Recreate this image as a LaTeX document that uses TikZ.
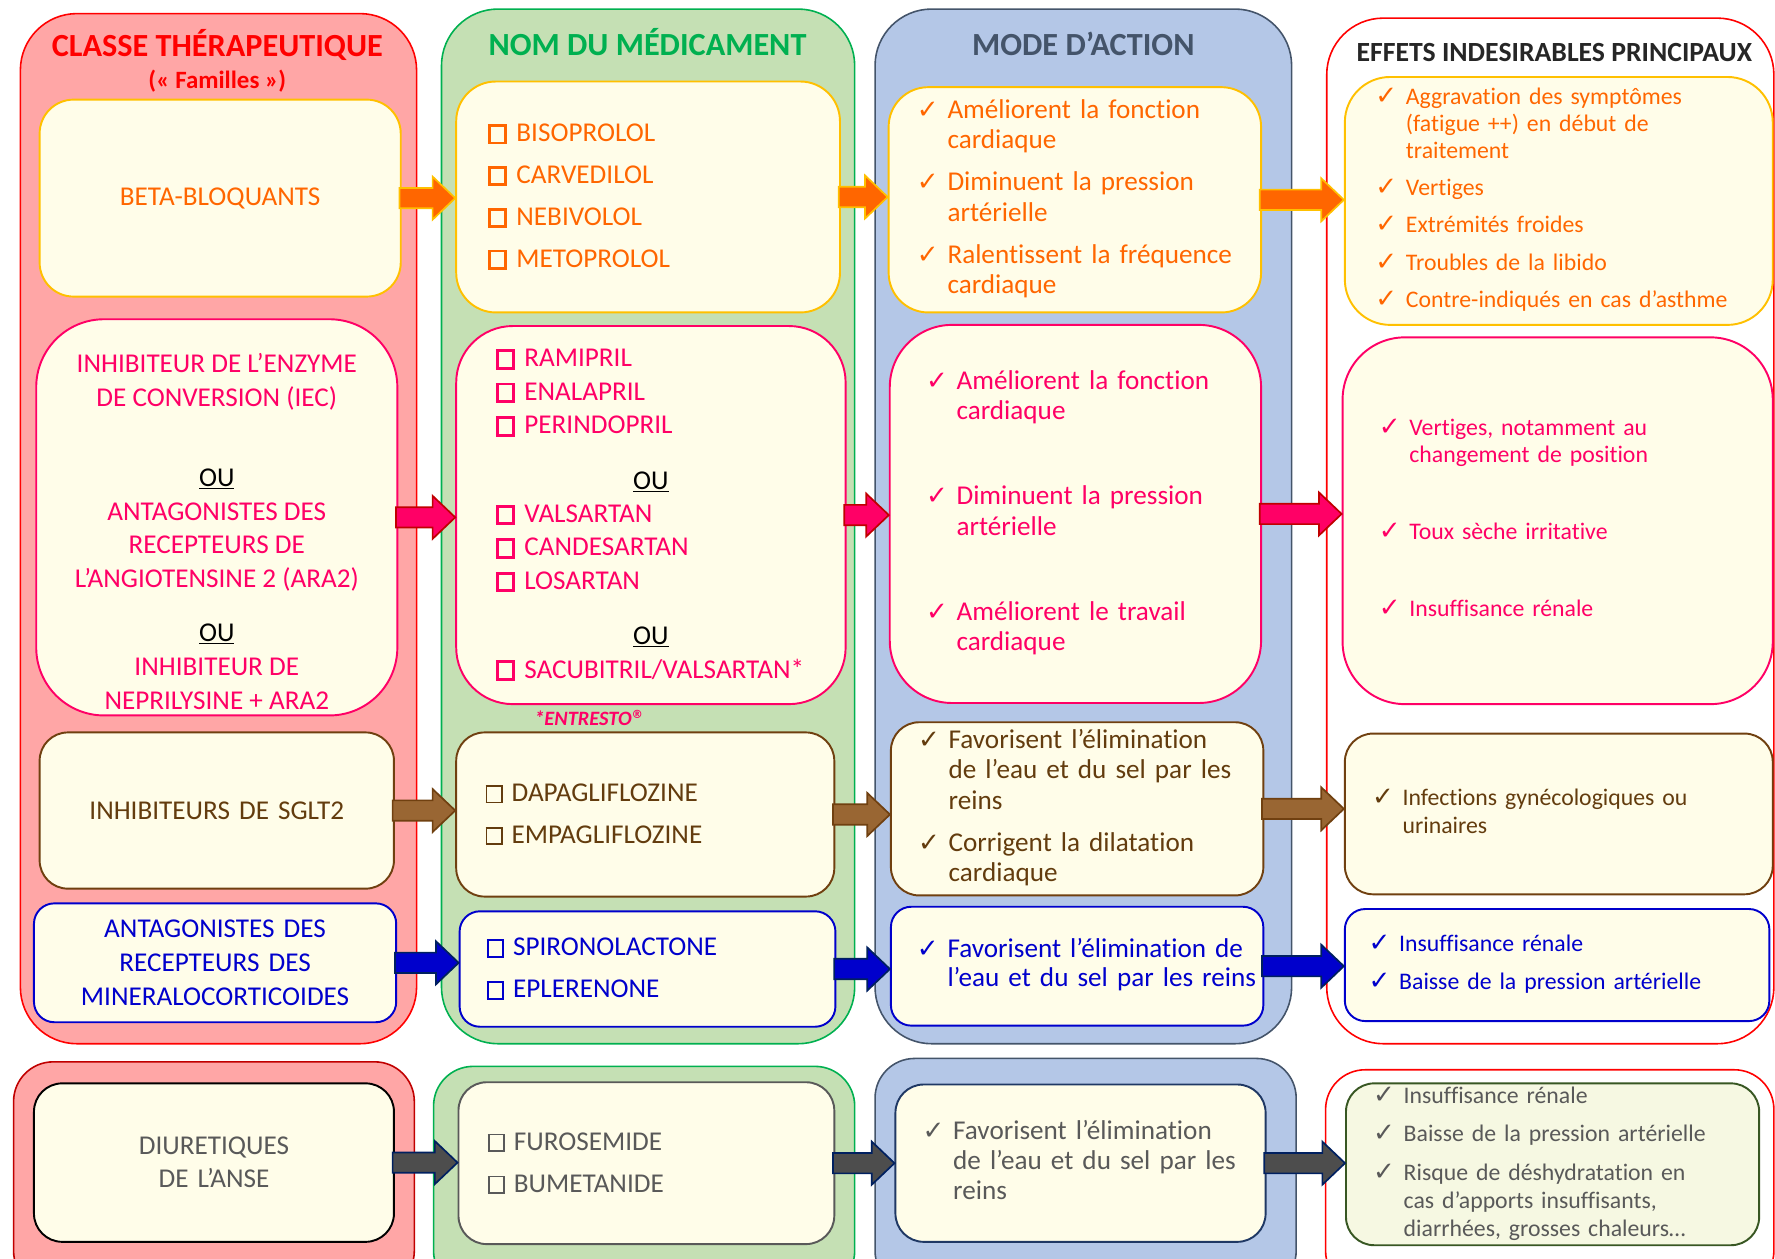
\documentclass[tikz,border=0pt]{standalone}
\usepackage{fontspec}
\setmainfont{Carlito}[Ligatures=NoCommon]
\newfontfamily\symb{DejaVu Sans}
\usetikzlibrary{calc}

\definecolor{redlane}{RGB}{255,166,166}
\definecolor{greenlane}{RGB}{197,224,180}
\definecolor{bluelane}{RGB}{180,199,231}
\definecolor{cream}{RGB}{255,253,233}
\definecolor{creamgreen}{RGB}{246,248,226}
\definecolor{hdred}{RGB}{255,0,0}
\definecolor{darkred}{RGB}{192,0,0}
\definecolor{hdgreen}{RGB}{0,176,80}
\definecolor{slate}{RGB}{68,84,106}
\definecolor{ink}{RGB}{38,38,38}
\definecolor{orng}{RGB}{255,102,0}
\definecolor{ylw}{RGB}{255,192,0}
\definecolor{pnk}{RGB}{255,0,102}
\definecolor{brn}{RGB}{99,60,14}
\definecolor{brnline}{RGB}{112,64,16}
\definecolor{brnarrow}{RGB}{153,102,51}
\definecolor{blu}{RGB}{0,0,204}
\definecolor{navy}{RGB}{0,32,96}
\definecolor{gry}{RGB}{89,89,89}
\definecolor{darkgry}{RGB}{77,77,77}
\definecolor{dkgreen}{RGB}{56,87,35}
\definecolor{dknavy}{RGB}{31,56,100}

\newcommand\ck{\makebox[27pt][l]{\symb\fontsize{23}{23}\selectfont ✓}}
\newcommand\sq[1][2.6pt]{{\setlength\fboxsep{0pt}\setlength\fboxrule{#1}\fbox{\rule{0pt}{13pt}\rule{12pt}{0pt}}}\hspace{8pt}}
\newcommand\ou{{\color{black}\underline{OU}}}
\newcommand\flow[3]{%
  \path (#2) coordinate (s) (#3 |- #2) coordinate (t);
  \draw[#1] ($(s)+(-2,-9)$) -- ($(t)+(-20,-9)$) -- ($(t)+(-20,-19)$) -- (t)
    -- ($(t)+(-20,19)$) -- ($(t)+(-20,9)$) -- ($(s)+(-2,9)$) -- cycle;}

\begin{document}
\begin{tikzpicture}[x=1pt,y=-1pt,
  lane/.style={line width=1.4pt, rounded corners=50pt},
  cell/.style={draw, fill=cream, line width=1.7pt, inner ysep=0pt, align=left,
    font=\fontsize{24}{27}\selectfont},
  head/.style={font=\bfseries\fontsize{28.5}{30}\selectfont},
  small/.style={font=\fontsize{21}{23.5}\selectfont},
  beta/.style={draw=ylw, text=orng},
  iec/.style={draw=pnk, text=pnk},
  sglt/.style={draw=brnline, text=brn},
  mra/.style={draw=blu, text=blu},
  anse/.style={text=gry},
  fbeta/.style={fill=orng, draw=ylw, line width=1.5pt},
  fiec/.style={fill=pnk, draw=darkred, line width=1.5pt},
  fsglt/.style={fill=brnarrow, draw=brnline, line width=1.5pt},
  fmra/.style={fill=blu, draw=navy, line width=1.5pt},
  fanse/.style={fill=darkgry, draw=navy, line width=1.5pt}]
\useasboundingbox (0,0) rectangle (1568,1112);

% colonnes
\draw[lane, fill=redlane, draw=hdred] (18,12) rectangle (368,922);
\draw[lane, fill=greenlane, draw=hdgreen] (390,8) rectangle (755,922);
\draw[lane, fill=bluelane, draw=slate] (773,8) rectangle (1141,922);
\draw[lane, fill=white, draw=hdred] (1172,16) rectangle (1567,922);
\draw[lane, rounded corners=35pt, fill=redlane, draw=darkred] (12,938) rectangle (366,1140);
\draw[lane, rounded corners=35pt, fill=greenlane, draw=hdgreen] (383,942) rectangle (755,1140);
\draw[lane, rounded corners=35pt, fill=bluelane, draw=slate] (773,935) rectangle (1145,1140);
\draw[lane, rounded corners=35pt, fill=white, draw=hdred] (1171,945) rectangle (1567,1140);

\node[head, text=hdred] (H1) at (192,40) {CLASSE THÉRAPEUTIQUE};
\node[head, text=hdred, font=\bfseries\fontsize{22}{24}\selectfont] (H1b) at (192,72) {(« Familles »)};
\node[head, text=hdgreen] (H2) at (572,37) {NOM DU MÉDICAMENT};
\node[head, text=slate] (H3) at (957,39) {MODE D’ACTION};
\node[head, text=ink, font=\bfseries\fontsize{24.5}{26}\selectfont] (H4) at (1373,46) {EFFETS INDESIRABLES PRINCIPAUX};

% beta-bloquants
\node[cell, beta, align=center, minimum width=319pt, minimum height=174pt, inner xsep=10pt, text width=299pt, rounded corners=30pt] (C1) at (194.5,175) {BETA-BLOQUANTS};
\node[cell, beta, minimum width=339pt, minimum height=204pt, inner xsep=28pt, text width=283pt, rounded corners=35pt] (N1) at (572.5,174)
  {\sq BISOPROLOL\\[10pt]\sq CARVEDILOL\\[10pt]\sq NEBIVOLOL\\[10pt]\sq METOPROLOL};
\node[cell, beta, minimum width=329pt, minimum height=199pt, inner xsep=25pt, text width=279pt, rounded corners=35pt] (M1) at (949.5,176.5)
  {\begin{tabular}{@{}l@{}l@{}}
   \ck & Améliorent la fonction\\ & cardiaque\\[10pt]
   \ck & Diminuent la pression\\ & artérielle\\[10pt]
   \ck & Ralentissent la fréquence\\ & cardiaque
   \end{tabular}};
\node[cell, beta, small, minimum width=378pt, minimum height=219pt, inner xsep=27pt, text width=324pt, rounded corners=40pt] (E1) at (1377,177.5)
  {\begin{tabular}{@{}l@{}l@{}}
   \ck & Aggravation des symptômes\\ & (fatigue ++) en début de\\ & traitement\\[9.5pt]
   \ck & Vertiges\\[9.5pt]
   \ck & Extrémités froides\\[9.5pt]
   \ck & Troubles de la libido\\[9.5pt]
   \ck & Contre-indiqués en cas d’asthme
   \end{tabular}};

% IEC / ARA2
\node[cell, iec, minimum width=319pt, minimum height=350pt, rounded corners=60pt] (C2) at (191.5,457) {};
\node[text=pnk, align=center, font=\fontsize{24}{30}\selectfont] (C2t) at (191.5,469.5)
  {INHIBITEUR DE L’ENZYME\\DE CONVERSION (IEC)\\[40pt]\ou\\ANTAGONISTES DES\\RECEPTEURS DE\\L’ANGIOTENSINE 2 (ARA2)\\[17pt]\ou\\INHIBITEUR DE\\NEPRILYSINE + ARA2};
\node[cell, iec, font=\fontsize{24}{29.5}\selectfont, minimum width=344pt, minimum height=334pt, inner xsep=35pt, text width=274pt, rounded corners=50pt] (N2) at (575,455)
  {\sq RAMIPRIL\\\sq ENALAPRIL\\\sq PERINDOPRIL\\[19.5pt]\makebox[\linewidth]{\ou}\\\sq VALSARTAN\\\sq CANDESARTAN\\\sq LOSARTAN\\[19.5pt]\makebox[\linewidth]{\ou}\\\sq SACUBITRIL/VALSARTAN*};
\node[text=pnk, font=\bfseries\itshape\fontsize{18}{19}\selectfont] (ENT) at (520,634) {*ENTRESTO\raisebox{6pt}{\symb\upshape\fontsize{10}{10}\selectfont ®}};
\node[cell, iec, minimum width=328pt, minimum height=334pt, inner xsep=32pt, text width=264pt, rounded corners=55pt] (M2) at (950,454)
  {\begin{tabular}{@{}l@{}l@{}}
   \ck & Améliorent la fonction\\ & cardiaque\\[48pt]
   \ck & Diminuent la pression\\ & artérielle\\[48pt]
   \ck & Améliorent le travail\\ & cardiaque
   \end{tabular}};
\node[cell, iec, font=\fontsize{21}{24}\selectfont, minimum width=380pt, minimum height=324pt, inner xsep=32pt, text width=316pt, rounded corners=55pt] (E2) at (1376,460)
  {\begin{tabular}{@{}l@{}l@{}}
   \ck & Vertiges, notamment au\\ & changement de position\\[44pt]
   \ck & Toux sèche irritative\\[44pt]
   \ck & Insuffisance rénale
   \end{tabular}};

% SGLT2
\node[cell, sglt, align=center, minimum width=313pt, minimum height=138pt, inner xsep=10pt, text width=293pt, rounded corners=25pt] (C3) at (191.5,716) {INHIBITEURS DE SGLT2};
\node[cell, sglt, minimum width=334pt, minimum height=145pt, inner xsep=26pt, text width=282pt, rounded corners=25pt] (N3) at (570,719.5)
  {\sq[1.5pt]DAPAGLIFLOZINE\\[10pt]\sq[1.5pt]EMPAGLIFLOZINE};
\node[cell, sglt, minimum width=329pt, minimum height=153pt, inner xsep=24pt, text width=281pt, rounded corners=25pt] (M3) at (951.5,714.5)
  {\begin{tabular}{@{}l@{}l@{}}
   \ck & Favorisent l’élimination\\ & de l’eau et du sel par les\\ & reins\\[10pt]
   \ck & Corrigent la dilatation\\ & cardiaque
   \end{tabular}};
\node[cell, sglt, font=\fontsize{21}{25}\selectfont, minimum width=378pt, minimum height=142pt, inner xsep=24pt, text width=330pt, rounded corners=25pt] (E3) at (1377,719)
  {\begin{tabular}{@{}l@{}l@{}}
   \ck & Infections gynécologiques ou\\ & urinaires
   \end{tabular}};

% antagonistes mineralocorticoides
\node[cell, mra, align=center, font=\fontsize{24}{30}\selectfont, minimum width=320pt, minimum height=105pt, inner xsep=10pt, text width=300pt, rounded corners=18pt] (C4) at (190,850.5)
  {ANTAGONISTES DES\\RECEPTEURS DES\\MINERALOCORTICOIDES};
\node[cell, mra, minimum width=332pt, minimum height=102pt, inner xsep=24pt, text width=284pt, rounded corners=18pt] (N4) at (572,856)
  {\sq[1.6pt]SPIRONOLACTONE\\[10pt]\sq[1.6pt]EPLERENONE};
\node[cell, mra, font=\fontsize{24}{26}\selectfont, minimum width=329pt, minimum height=105pt, inner xsep=23pt, text width=283pt, rounded corners=18pt] (M4) at (951.5,853.5)
  {\begin{tabular}{@{}l@{}l@{}}
   \ck & Favorisent l’élimination de\\ & l’eau et du sel par les reins
   \end{tabular}};
\node[cell, mra, font=\fontsize{21}{24}\selectfont, minimum width=375pt, minimum height=99pt, inner xsep=21pt, text width=333pt, rounded corners=18pt] (E4) at (1375.5,852.5)
  {\begin{tabular}{@{}l@{}l@{}}
   \ck & Insuffisance rénale\\[10pt]
   \ck & Baisse de la pression artérielle
   \end{tabular}};

% diuretiques de l'anse
\node[cell, anse, draw=black, align=center, font=\fontsize{24}{29}\selectfont, minimum width=318pt, minimum height=140pt, inner xsep=10pt, text width=298pt, rounded corners=25pt] (C5) at (189,1027)
  {DIURETIQUES\\DE L’ANSE};
\node[cell, anse, draw=gry, minimum width=332pt, minimum height=143pt, inner xsep=26pt, text width=280pt, rounded corners=25pt] (N5) at (571,1027.5)
  {\sq[1.5pt]FUROSEMIDE\\[10pt]\sq[1.5pt]BUMETANIDE};
\node[cell, anse, draw=dknavy, font=\fontsize{24}{26.5}\selectfont, minimum width=327pt, minimum height=139pt, inner xsep=24pt, text width=279pt, rounded corners=25pt] (M5) at (954.5,1027.5)
  {\begin{tabular}{@{}l@{}l@{}}
   \ck & Favorisent l’élimination\\ & de l’eau et du sel par les\\ & reins
   \end{tabular}};
\node[cell, anse, draw=dkgreen, fill=creamgreen, font=\fontsize{21}{25}\selectfont, minimum width=365pt, minimum height=141pt, inner xsep=24pt, text width=317pt, rounded corners=25pt] (E5) at (1371.5,1028.5)
  {\begin{tabular}{@{}l@{}l@{}}
   \ck & Insuffisance rénale\\[9pt]
   \ck & Baisse de la pression artérielle\\[9pt]
   \ck & Risque de déshydratation en\\ & cas d’apports insuffisants,\\ & diarrhées, grosses chaleurs…
   \end{tabular}};

% fleches
\flow{fbeta}{C1.east}{N1.west}
\flow{fbeta}{N1.east}{M1.west}
\flow{fbeta}{M1.east}{E1.west}
\flow{fiec}{C2.east}{N2.west}
\flow{fiec}{N2.east}{M2.west}
\flow{fiec}{M2.east}{E2.west}
\flow{fsglt}{C3.east}{N3.west}
\flow{fsglt}{N3.east}{M3.west}
\flow{fsglt}{M3.east}{E3.west}
\flow{fmra}{C4.east}{N4.west}
\flow{fmra}{N4.east}{M4.west}
\flow{fmra}{M4.east}{E4.west}
\flow{fanse}{C5.east}{N5.west}
\flow{fanse}{N5.east}{M5.west}
\flow{fanse}{M5.east}{E5.west}
\end{tikzpicture}
\end{document}
